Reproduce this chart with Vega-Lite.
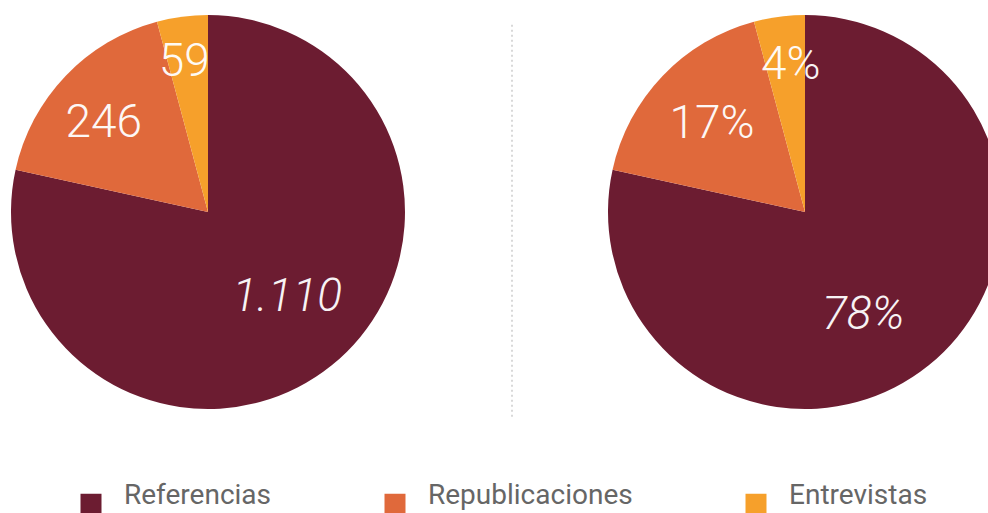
{
  "$schema": "https://vega.github.io/schema/vega-lite/v6.json",
  "padding": 0,
  "autosize": {"type": "pad"},
  "background": "white",
  "config": {
    "view": {"stroke": null},
    "concat": {"spacing": 0},
    "locale": {"number": {"decimal": ",", "thousands": ".", "grouping": [3], "currency": ["", " €"]}},
    "text": {"font": "Roboto", "fontWeight": 300, "fontSize": 46, "color": "white"},
    "legend": {
      "orient": "none", "legendX": 77, "legendY": 490, "direction": "horizontal", "columns": 3,
      "symbolType": "square", "symbolSize": 441, "symbolStrokeWidth": 0, "symbolOpacity": 1,
      "labelFont": "Roboto", "labelFontSize": 28, "labelColor": "#666666", "labelOffset": 19,
      "labelBaseline": "alphabetic", "columnPadding": 109, "padding": 0, "labelLimit": 400
    }
  },
  "datasets": {
    "d": [
      {"cat": "Referencias", "value": 1110, "pct": 0.78},
      {"cat": "Republicaciones", "value": 246, "pct": 0.17},
      {"cat": "Entrevistas", "value": 59, "pct": 0.04}
    ],
    "sep": [{"k": 1}]
  },
  "hconcat": [
    {
      "width": 416,
      "height": 424,
      "data": {"name": "d"},
      "encoding": {
        "theta": {"field": "value", "type": "quantitative", "stack": true},
        "order": {"field": "value", "type": "quantitative", "sort": "descending"}
      },
      "layer": [
        {
          "mark": {"type": "arc", "outerRadius": 197},
          "encoding": {
            "color": {
              "field": "cat", "type": "nominal",
              "scale": {"domain": ["Referencias", "Republicaciones", "Entrevistas"], "range": ["#6c1c31", "#e0693b", "#f6a02b"]},
              "legend": {"title": null}
            }
          }
        },
        {
          "mark": {"type": "text", "fontStyle": "normal", "dx": -3, "dy": 8},
          "encoding": {
            "radius": {"field": "value", "type": "quantitative", "scale": {"type": "linear", "zero": false, "domain": [59, 246, 1110], "range": [159, 140, 115]}},
            "text": {"field": "value", "type": "quantitative", "format": ",.0f"},
            "opacity": {"condition": {"test": "datum.cat === 'Referencias'", "value": 0}, "value": 0.95}
          }
        },
        {
          "mark": {"type": "text", "fontStyle": "italic", "dx": 7, "dy": -5},
          "encoding": {
            "radius": {"field": "value", "type": "quantitative", "scale": {"type": "linear", "zero": false, "domain": [59, 246, 1110], "range": [159, 140, 115]}},
            "text": {"field": "value", "type": "quantitative", "format": ",.0f"},
            "opacity": {"condition": {"test": "datum.cat === 'Referencias'", "value": 0.95}, "value": 0}
          }
        }
      ]
    },
    {
      "width": 192,
      "height": 424,
      "data": {"name": "sep"},
      "mark": {"type": "rule", "color": "#cccccc", "strokeDash": [2, 3], "strokeWidth": 1.5},
      "encoding": {
        "x": {"datum": 1, "type": "quantitative", "scale": {"domain": [0, 2]}, "axis": null},
        "y": {"datum": 0.017, "type": "quantitative", "scale": {"domain": [0, 1]}, "axis": null},
        "y2": {"datum": 0.948}
      }
    },
    {
      "width": 394,
      "height": 424,
      "data": {"name": "d"},
      "encoding": {
        "theta": {"field": "value", "type": "quantitative", "stack": true},
        "order": {"field": "value", "type": "quantitative", "sort": "descending"}
      },
      "layer": [
        {
          "mark": {"type": "arc", "outerRadius": 197},
          "encoding": {
            "color": {
              "field": "cat", "type": "nominal",
              "scale": {"domain": ["Referencias", "Republicaciones", "Entrevistas"], "range": ["#6c1c31", "#e0693b", "#f6a02b"]},
              "legend": {"title": null}
            }
          }
        },
        {
          "mark": {"type": "text", "fontStyle": "normal", "dx": 6, "dy": 7},
          "encoding": {
            "radius": {"field": "value", "type": "quantitative", "scale": {"type": "linear", "zero": false, "domain": [59, 246, 1110], "range": [155, 137, 117]}},
            "text": {"field": "pct", "type": "quantitative", "format": ".0%"},
            "opacity": {"condition": {"test": "datum.cat === 'Referencias'", "value": 0}, "value": 0.95}
          }
        },
        {
          "mark": {"type": "text", "fontStyle": "italic", "dx": -15, "dy": 12},
          "encoding": {
            "radius": {"field": "value", "type": "quantitative", "scale": {"type": "linear", "zero": false, "domain": [59, 246, 1110], "range": [155, 137, 117]}},
            "text": {"field": "pct", "type": "quantitative", "format": ".0%"},
            "opacity": {"condition": {"test": "datum.cat === 'Referencias'", "value": 0.95}, "value": 0}
          }
        }
      ]
    }
  ]
}
